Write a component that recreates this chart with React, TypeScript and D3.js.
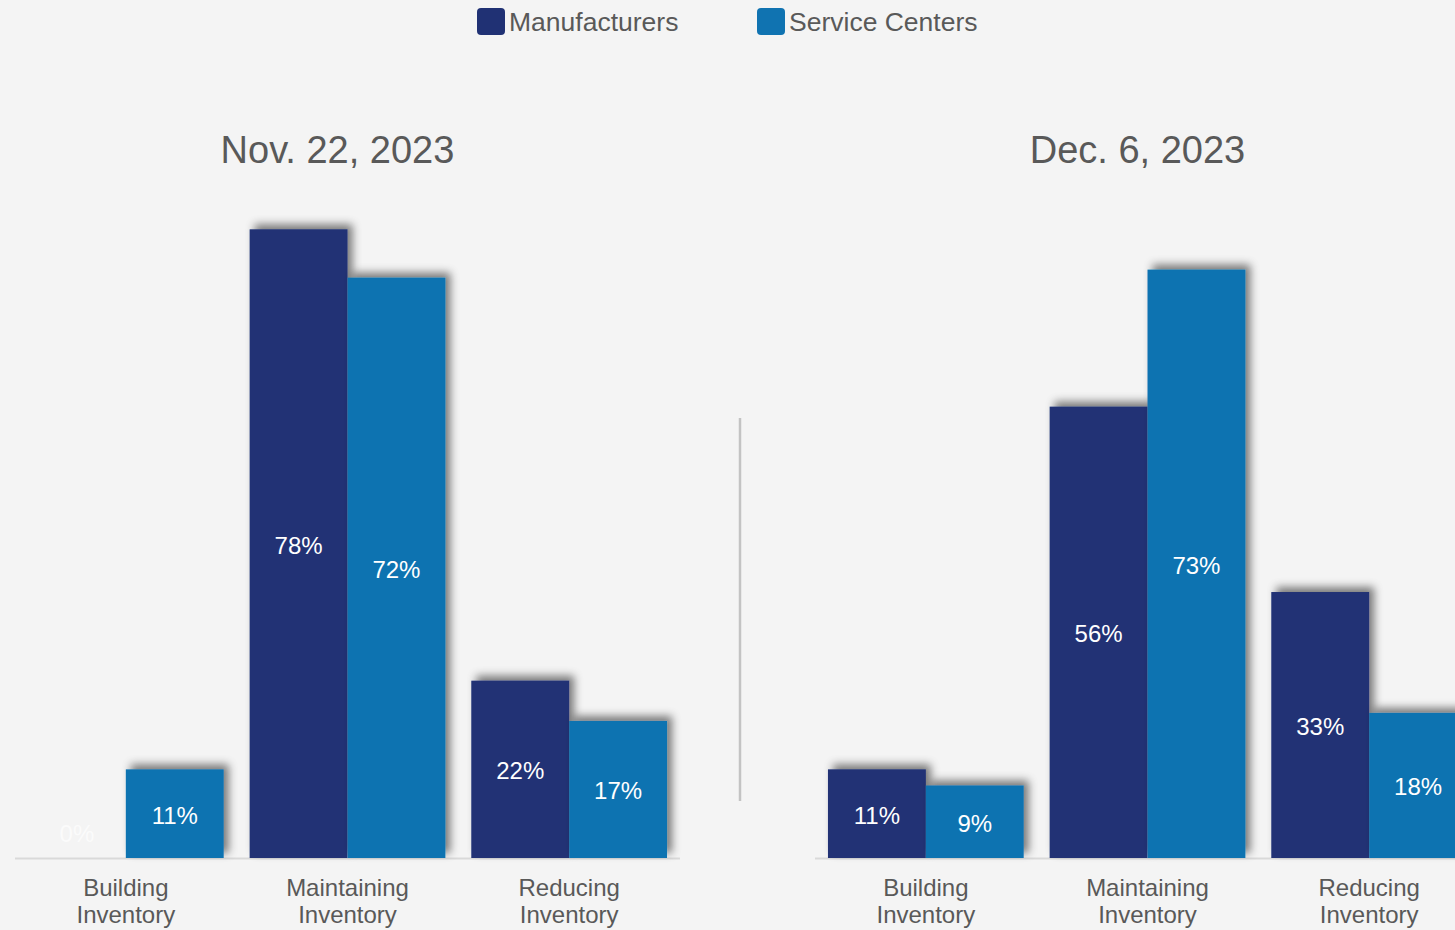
import React from "react";
import * as d3 from "d3";

const categories = ["Building Inventory", "Maintaining Inventory", "Reducing Inventory"];
const seriesNames = ["Manufacturers", "Service Centers"];
const seriesColors = ["#203174", "#1073b1"];

const panelTitles = ["Nov. 22, 2023", "Dec. 6, 2023"];
const nov22Manufacturers = [0, 78, 22];
const nov22ServiceCenters = [11, 72, 17];
const dec6Manufacturers = [11, 56, 33];
const dec6ServiceCenters = [9, 73, 18];

const panels = [
  { title: panelTitles[0], series: [nov22Manufacturers, nov22ServiceCenters] },
  { title: panelTitles[1], series: [dec6Manufacturers, dec6ServiceCenters] },
];

const W = 1455;
const H = 930;
const FONT = "'Liberation Sans', Arial, sans-serif";
const baseY = 858;
const panelStarts = [15, 815];
const panelWidth = 665;

export default function App() {
  const y = d3.scaleLinear().domain([0, 100]).range([baseY, baseY - 806]);

  return (
    <svg
      width={W}
      height={H}
      style={{ position: "absolute", left: 0, top: 0, display: "block", background: "#f4f4f4" }}
      fontFamily={FONT}
    >
      <defs>
        <filter id="barShadow" x="-20%" y="-20%" width="140%" height="140%">
          <feGaussianBlur in="SourceAlpha" stdDeviation="4" />
          <feOffset dx="5" dy="-5" result="blur" />
          <feFlood floodColor="#000" floodOpacity="0.5" />
          <feComposite in2="blur" operator="in" />
          <feMerge>
            <feMergeNode />
            <feMergeNode in="SourceGraphic" />
          </feMerge>
        </filter>
      </defs>
      <rect x={0} y={0} width={W} height={H} fill="#f4f4f4" />

      {/* legend */}
      {seriesNames.map((name, i) => {
        const lx = [477, 757][i];
        return (
          <g key={name}>
            <rect x={lx} y={8} width={28} height={27} rx={4} fill={seriesColors[i]} />
            <text x={lx + 32} y={31} fontSize={26.5} fill="#595959">
              {name}
            </text>
          </g>
        );
      })}

      {/* divider */}
      <line x1={740} x2={740} y1={418} y2={801} stroke="#c3c3c3" strokeWidth={2.5} />

      {panels.map((panel, pi) => {
        const x0 = panelStarts[pi];
        const x = d3
          .scaleBand<string>()
          .domain(categories)
          .range([x0, x0 + panelWidth])
          .paddingInner(0.117)
          .paddingOuter(0.0585);
        const xs = d3
          .scaleBand<string>()
          .domain(seriesNames)
          .range([0, x.bandwidth()]);
        return (
          <g key={panel.title}>
            <text
              x={x0 + panelWidth / 2 - 10}
              y={163}
              fontSize={38}
              textAnchor="middle"
              fill="#595959"
            >
              {panel.title}
            </text>
            <line x1={x0} x2={x0 + panelWidth} y1={baseY + 0.5} y2={baseY + 0.5} stroke="#d9d9d9" strokeWidth={2} />
            {categories.map((cat, ci) =>
              panel.series.map((vals, si) => {
                const v = vals[ci];
                const bx = (x(cat) ?? 0) + (xs(seriesNames[si]) ?? 0);
                const bw = xs.bandwidth();
                const top = y(v);
                const h = baseY - top;
                return (
                  <g key={cat + si}>
                    {h > 0 && (
                      <rect
                        x={bx}
                        y={top}
                        width={bw}
                        height={h}
                        fill={seriesColors[si]}
                        filter="url(#barShadow)"
                      />
                    )}
                  </g>
                );
              })
            )}
            {categories.map((cat, ci) =>
              panel.series.map((vals, si) => {
                const v = vals[ci];
                const bx = (x(cat) ?? 0) + (xs(seriesNames[si]) ?? 0);
                const bw = xs.bandwidth();
                const top = y(v);
                const cy = v === 0 ? baseY - 24 : (top + baseY) / 2 + 1.5;
                return (
                  <text
                    key={"l" + cat + si}
                    x={bx + bw / 2}
                    y={cy}
                    dy="0.35em"
                    fontSize={24}
                    textAnchor="middle"
                    fill={v === 0 ? "#fbfbfb" : "#ffffff"}
                  >
                    {v}%
                  </text>
                );
              })
            )}
            {categories.map((cat) => {
              const words = cat.split(" ");
              const cx = (x(cat) ?? 0) + x.bandwidth() / 2;
              return (
                <text key={"c" + cat} x={cx} textAnchor="middle" fontSize={24} fill="#595959">
                  {words.map((w, wi) => (
                    <tspan key={w} x={cx} y={896 + wi * 27}>
                      {w}
                    </tspan>
                  ))}
                </text>
              );
            })}
          </g>
        );
      })}
    </svg>
  );
}
